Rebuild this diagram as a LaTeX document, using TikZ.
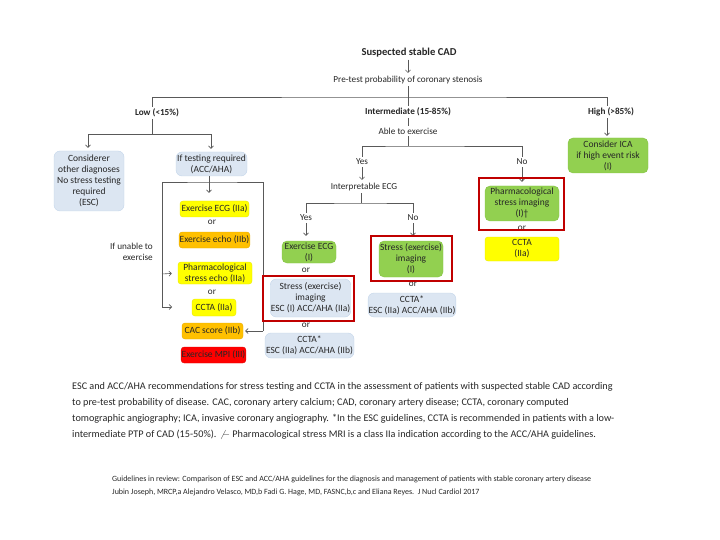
\documentclass[tikz,border=0pt]{standalone}
\usepackage{fontspec}
\setmainfont{Carlito}
\usetikzlibrary{arrows.meta}

\definecolor{boxblue}{HTML}{DCE6F2}
\definecolor{boxblueline}{HTML}{C3D5EA}
\definecolor{boxgreen}{HTML}{92D050}
\definecolor{boxgreenline}{HTML}{84C244}
\definecolor{boxyellow}{HTML}{FFFF00}
\definecolor{boxyellowline}{HTML}{E6E600}
\definecolor{boxorange}{HTML}{FFC000}
\definecolor{boxorangeline}{HTML}{E6AC00}
\definecolor{boxred}{HTML}{FF0000}
\definecolor{boxredline}{HTML}{E00000}
\definecolor{hlred}{HTML}{C00000}
\definecolor{linegray}{HTML}{595959}
\definecolor{txt}{HTML}{262626}

\tikzset{
  cadbox/.style={align=center, inner sep=0.5pt, text=txt, font=\fontsize{9.5}{11}\selectfont},
  bluebox/.style={cadbox, fill=boxblue, draw=boxblueline, rounded corners=6pt},
  greenbox/.style={cadbox, fill=boxgreen, draw=boxgreenline, rounded corners=5pt},
  yellowbox/.style={cadbox, fill=boxyellow, draw=boxyellowline, rounded corners=3pt},
  orangebox/.style={cadbox, fill=boxorange, draw=boxorangeline, rounded corners=3pt},
  redbox/.style={cadbox, fill=boxred, draw=boxredline, rounded corners=3pt},
  lbl/.style={text=txt, inner sep=2pt, font=\fontsize{9.2}{11}\selectfont},
  hdr/.style={lbl, font=\fontsize{9.2}{11}\selectfont\bfseries},
  ln/.style={draw=linegray, line width=0.6pt},
  arr/.style={ln, -{Straight Barb[length=2.5pt,width=5pt]}},
  hl/.style={draw=hlred, line width=1.8pt},
}

\begin{document}
\begin{tikzpicture}[x=1pt, y=-1pt]
  \useasboundingbox (0,0) rectangle (720,540);

  % Top of the tree
  \node[hdr, font=\fontsize{10.6}{12}\selectfont\bfseries] (title) at (409,53) {Suspected stable CAD};
  \node[lbl] (pretest) at (408,80) {Pre-test probability of coronary stenosis};
  \draw[arr, shorten >=1pt] ([xshift=-1pt]title.south) -- (pretest);

  % Three risk groups
  \node[hdr] (low) at (157,113) {Low (<15\%)};
  \node[hdr] (inter) at (408,112) {Intermediate (15-85\%)};
  \node[hdr] (high) at (611,112) {High (>85\%)};
  \coordinate (split) at (408,97);
  \draw[ln] (pretest) -- (inter);
  \draw[ln] ([xshift=-5pt]low.north) |- (split) -| ([xshift=-4pt]high.north);

  % High
  \node[greenbox, minimum width=80pt, minimum height=35pt] (ica) at (608,155.5) {Consider ICA\\if high event risk\\(I)};
  \draw[arr, shorten >=2pt] ([xshift=-4pt]high.south) -- ([xshift=-1pt]ica.north);

  % Low
  \node[bluebox, minimum width=70pt, minimum height=60pt] (other) at (89,181) {Considerer\\other diagnoses\\No stress testing\\required\\(ESC)};
  \node[bluebox, minimum width=71pt, minimum height=24pt] (iftest) at (211.5,164) {If testing required\\(ACC/AHA)};
  \coordinate (lowsplit) at (152,134);
  \draw[ln] ([xshift=-5pt]low.south) -- (lowsplit);
  \draw[arr, shorten >=3pt] (lowsplit) -| ([xshift=-1pt]other.north);
  \draw[arr, shorten >=3pt] (lowsplit) -| ([xshift=-0.5pt]iftest.north);

  \node[yellowbox, minimum width=69pt, minimum height=16pt] (execg) at (214.5,209) {Exercise ECG (IIa)};
  \node[lbl] (or1) at (212,222) {or};
  \node[orangebox, minimum width=69pt, minimum height=16pt] (execho) at (214.5,240) {Exercise echo (IIb)};
  \node[lbl, align=right, anchor=east] (unable) at (155,251.5) {If unable to\\exercise};
  \node[yellowbox, minimum width=74pt, minimum height=22pt] (pharmecho) at (215,273) {Pharmacological\\stress echo (IIa)};
  \node[lbl] (or2) at (212,292) {or};
  \node[yellowbox, minimum width=44pt, minimum height=17pt] (cctalow) at (214,307.5) {CCTA (IIa)};
  \node[orangebox, minimum width=61pt, minimum height=16pt] (cac) at (212.5,331) {CAC score (IIb)};
  \node[redbox, minimum width=63pt, minimum height=16pt] (mpi) at (213.5,355) {Exercise MPI (III)};
  \draw[arr, shorten >=8pt] ([xshift=-2.5pt]iftest.south) -- ([xshift=-2.5pt]iftest.south |- execg.north);

  % Bracket round the low-risk tests
  \coordinate (bracketl) at (162,307);
  \coordinate (bracketr) at (263,331);
  \coordinate (pharmin) at (162,274);
  \coordinate (cctain) at (172,307);
  \draw[ln] (bracketl) |- (212,182) -| (bracketr);
  \draw[arr, shorten >=6pt] (pharmin) -- (pharmecho.west);
  \draw[arr] (bracketl) -- (cctain);
  \draw[arr, shorten >=2pt] (bracketr) -- (cac.east);

  % Intermediate
  \node[lbl] (able) at (408,131) {Able to exercise};
  \node[lbl] (yes1) at (362,162) {Yes};
  \node[lbl] (no1) at (522,162) {No};
  \coordinate (intsplit) at (408,146);
  \draw[ln] (inter) -- (able);
  \draw[ln] (able) -- (intsplit);
  \draw[ln] (yes1) |- (intsplit) -| (no1);

  \node[lbl] (interp) at (364,187) {Interpretable ECG};
  \node[lbl] (yes2) at (306,218) {Yes};
  \node[lbl] (no2) at (413,218) {No};
  \coordinate (ecgsplit) at (361,203);
  \draw[arr, shorten >=1pt] (yes1) -- (yes1 |- interp.north);
  \draw[ln] ([xshift=-3pt]interp.south) -- (ecgsplit);
  \draw[ln] (yes2) |- (ecgsplit) -| (no2);

  % Interpretable ECG: yes
  \node[greenbox, minimum width=54pt, minimum height=22pt] (execgint) at (309,252) {Exercise ECG\\(I)};
  \node[lbl] (or3) at (306,270) {or};
  \node[bluebox, minimum width=79pt, minimum height=38pt] (stressyes) at (310.5,298) {Stress (exercise)\\imaging\\ESC (I) ACC/AHA (IIa)};
  \node[lbl] (or4) at (306,325) {or};
  \node[bluebox, minimum width=89pt, minimum height=25pt] (cctayes) at (309.5,345.5) {CCTA*\\ESC (IIa) ACC/AHA (IIb)};
  \draw[arr, shorten >=5pt] (yes2) -- (yes2 |- execgint.north);
  \draw[hl] (263,276) rectangle (354,321);

  % Interpretable ECG: no
  \node[greenbox, minimum width=64pt, minimum height=36pt] (stressno) at (411,259) {Stress (exercise)\\imaging\\(I)};
  \node[lbl] (or5) at (413,284) {or};
  \node[bluebox, minimum width=86pt, minimum height=24pt] (cctano) at (412,305) {CCTA*\\ESC (IIa) ACC/AHA (IIb)};
  \draw[arr, shorten >=5pt] (no2) -- (no2 |- stressno.north);
  \draw[hl] (371,236) rectangle (452,281);

  % Not able to exercise
  \node[greenbox, minimum width=74pt, minimum height=35pt] (pharmimg) at (522,203.5) {Pharmacological\\stress imaging\\(I)†};
  \node[lbl] (or6) at (522,228) {or};
  \node[yellowbox, minimum width=74pt, minimum height=24pt] (cctapharm) at (522,249) {CCTA\\(IIa)};
  \draw[arr, shorten >=4pt] (no1) -- (pharmimg.north);
  \draw[hl] (479,178) rectangle (564,230);

  % Caption and source
  \node[anchor=north west, align=left, inner sep=0pt, text=txt, font=\fontsize{10.2}{16}\selectfont] (caption) at (72,382)
    {ESC and ACC/AHA recommendations for stress testing and CCTA in the assessment of patients with suspected stable CAD according\\
     to pre-test probability of disease. CAC, coronary artery calcium; CAD, coronary artery disease; CCTA, coronary computed\\
     tomographic angiography; ICA, invasive coronary angiography. *In the ESC guidelines, CCTA is recommended in patients with a low-\\
     intermediate PTP of CAD (15-50\%). $\not-$ Pharmacological stress MRI is a class IIa indication according to the ACC/AHA guidelines.};
  \node[anchor=north west, align=left, inner sep=0pt, text=txt, font=\fontsize{8}{13}\selectfont] (source) at (112,476)
    {Guidelines in review: Comparison of ESC and ACC/AHA guidelines for the diagnosis and management of patients with stable coronary artery disease\\
     Jubin Joseph, MRCP,a Alejandro Velasco, MD,b Fadi G. Hage, MD, FASNC,b,c and Eliana Reyes.\ \ J Nucl Cardiol 2017};
\end{tikzpicture}
\end{document}
